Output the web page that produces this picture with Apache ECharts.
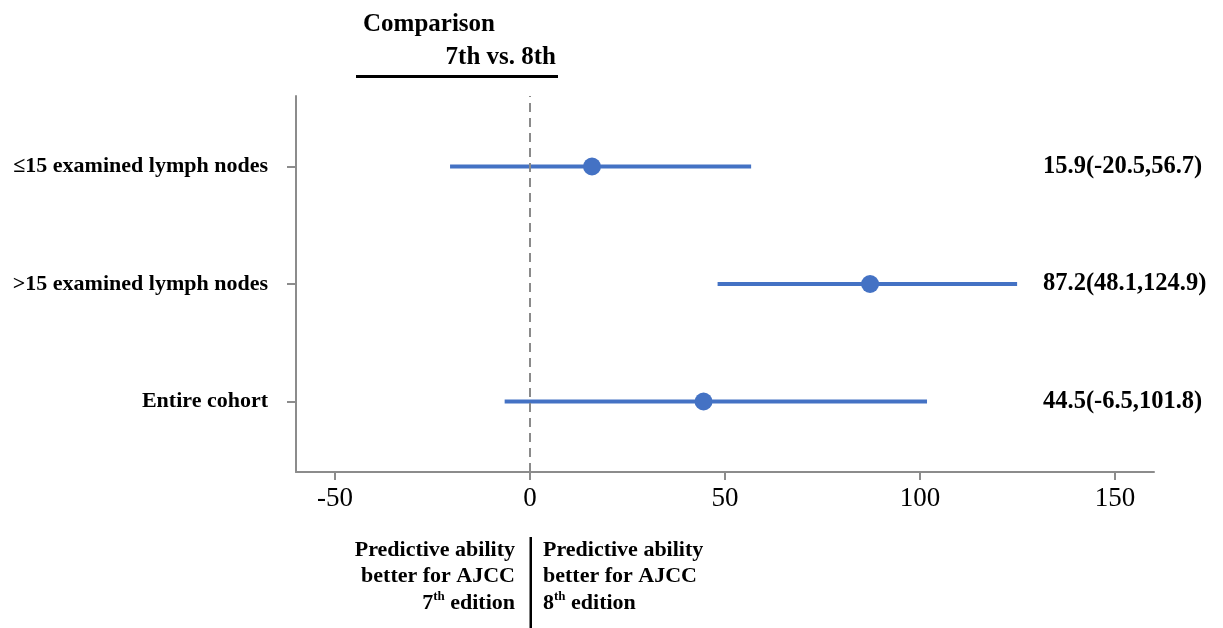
<!DOCTYPE html>
<html>
<head>
<meta charset="utf-8">
<script src="https://cdn.jsdelivr.net/npm/echarts@6/dist/echarts.min.js"></script>
<style>
html,body{margin:0;padding:0;background:#fff;}
#chart{width:1223px;height:628px;}
</style>
</head>
<body>
<div id="chart"></div>
<script>
// ---- data ----
const categories = ['\u226415 examined lymph nodes', '>15 examined lymph nodes', 'Entire cohort'];
const rowPositions = [3, 2, 1];
const estimates = [15.9, 87.2, 44.5];
const lowerCI = [-20.5, 48.1, -6.5];
const upperCI = [56.7, 124.9, 101.8];
const ciLabels = ['15.9(-20.5,56.7)', '87.2(48.1,124.9)', '44.5(-6.5,101.8)'];
const xTicks = [-50, 0, 50, 100, 150];
const titleLines = ['Comparison', '7th vs. 8th'];

const FONT = '"Liberation Serif","Times New Roman",serif';
const BLUE = '#4472C4';
const AXIS = '#8c8c8c';

const chart = echarts.init(document.getElementById('chart'), null, {renderer: 'canvas'});

function labelFor(v, arr) {
  const i = rowPositions.indexOf(Math.round(v));
  return i >= 0 ? arr[i] : '';
}

const option = {
  backgroundColor: '#fff',
  animation: false,
  grid: {left: 296, right: 69, top: 96, bottom: 156, containLabel: false},
  xAxis: {
    type: 'value', min: -60, max: 160,
    axisLine: {show: true, onZero: false, lineStyle: {color: AXIS, width: 2}},
    axisTick: {show: true, length: 8, customValues: xTicks, lineStyle: {color: AXIS, width: 2}},
    axisLabel: {customValues: xTicks, margin: 13, color: '#000', fontFamily: FONT, fontSize: 27},
    splitLine: {show: false}
  },
  yAxis: [
    {
      type: 'value', min: 0.4, max: 3.6, position: 'left',
      axisLine: {show: true, onZero: false, lineStyle: {color: AXIS, width: 2}},
      axisTick: {show: true, length: 9, customValues: rowPositions, lineStyle: {color: AXIS, width: 2}},
      axisLabel: {customValues: rowPositions, margin: 28, color: '#000', fontFamily: FONT, fontSize: 22, fontWeight: 'bold',
        formatter: v => labelFor(v, categories)},
      splitLine: {show: false}
    },
    {
      type: 'value', min: 0.4, max: 3.6, position: 'right', offset: -111,
      axisLine: {show: false, onZero: false}, axisTick: {show: false},
      axisLabel: {customValues: rowPositions, margin: 0, color: '#000', fontFamily: FONT, fontSize: 24.5, fontWeight: 'bold',
        formatter: v => labelFor(v, ciLabels)},
      splitLine: {show: false}
    }
  ],
  series: [
    {
      type: 'custom',
      yAxisIndex: 0,
      data: rowPositions.map((p, i) => [lowerCI[i], upperCI[i], p]),
      renderItem: function (params, api) {
        const a = api.coord([api.value(0), api.value(2)]);
        const b = api.coord([api.value(1), api.value(2)]);
        return {type: 'line', shape: {x1: a[0], y1: a[1], x2: b[0], y2: b[1]},
          style: {stroke: BLUE, lineWidth: 4}};
      },
      encode: {x: [0, 1], y: 2},
      z: 2
    },
    {
      type: 'scatter',
      yAxisIndex: 0,
      data: rowPositions.map((p, i) => [estimates[i], p]),
      symbol: 'circle', symbolSize: 18,
      itemStyle: {color: BLUE, opacity: 1},
      z: 3,
      markLine: {
        silent: true, symbol: ['none', 'none'], label: {show: false},
        lineStyle: {color: '#8a8a8a', type: [9, 6], width: 2},
        data: [{xAxis: 0}]
      }
    }
  ],
  graphic: [
    {type: 'text', x: 363, y: 25, style: {text: titleLines[0], font: 'bold 25px ' + FONT, fill: '#000', align: 'left', verticalAlign: 'middle'}},
    {type: 'text', x: 556, y: 58, style: {text: titleLines[1], font: 'bold 25px ' + FONT, fill: '#000', align: 'right', verticalAlign: 'middle'}},
    {type: 'rect', shape: {x: 356, y: 75, width: 202, height: 3}, style: {fill: '#000'}},
    {type: 'rect', shape: {x: 529.5, y: 537, width: 2.5, height: 91}, style: {fill: '#000'}},
    {type: 'text', x: 515, y: 537, style: {
      text: 'Predictive ability\nbetter for AJCC\n{n|7}{s|th}{n| edition}',
      align: 'right', verticalAlign: 'top',
      font: 'bold 22px ' + FONT, lineHeight: 26.5, fill: '#000',
      rich: {n: {font: 'bold 22px ' + FONT, lineHeight: 26.5}, s: {font: 'bold 13px ' + FONT, verticalAlign: 'top', lineHeight: 26.5, padding: [0,0,12,0]}}
    }},
    {type: 'text', x: 543, y: 537, style: {
      text: 'Predictive ability\nbetter for AJCC\n{n|8}{s|th}{n| edition}',
      align: 'left', verticalAlign: 'top',
      font: 'bold 22px ' + FONT, lineHeight: 26.5, fill: '#000',
      rich: {n: {font: 'bold 22px ' + FONT, lineHeight: 26.5}, s: {font: 'bold 13px ' + FONT, verticalAlign: 'top', lineHeight: 26.5, padding: [0,0,12,0]}}
    }}
  ]
};
chart.setOption(option);
</script>
</body>
</html>
